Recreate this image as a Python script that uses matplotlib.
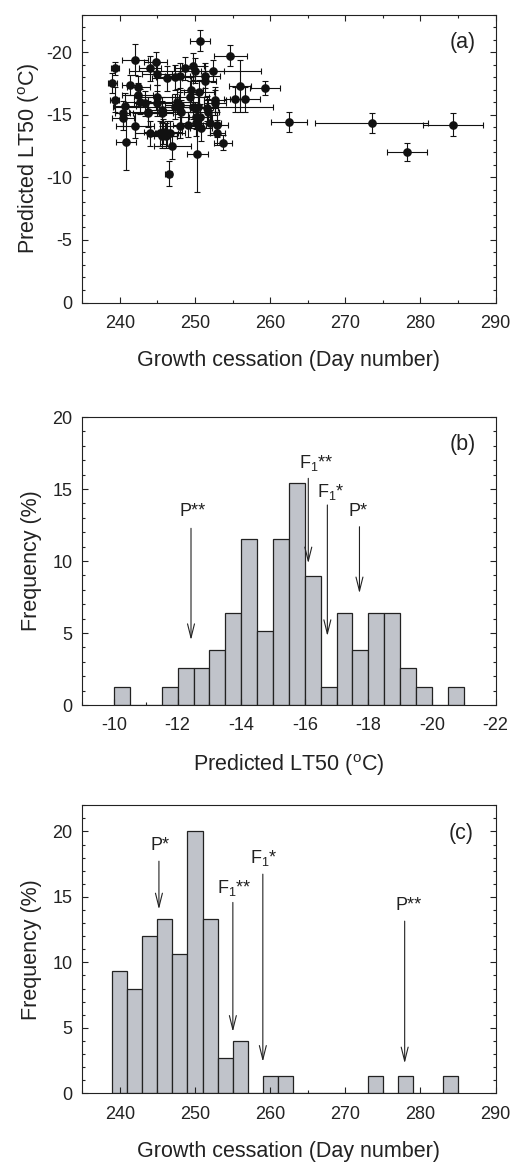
import numpy as np
import matplotlib.pyplot as plt
from matplotlib.ticker import MultipleLocator

plt.rcParams['font.family'] = ['Liberation Sans', 'DejaVu Sans']
plt.rcParams['mathtext.fontset'] = 'custom'
plt.rcParams['mathtext.rm'] = 'Liberation Sans'
plt.rcParams['axes.unicode_minus'] = False

# (a) growth cessation (day) vs predicted LT50, with errors
gc_day = [250.65, 254.7, 242.05, 239.35, 244.75, 244.0, 239.0, 239.35, 241.35, 242.45,
          242.35, 240.7, 240.4, 240.4, 242.05, 240.8, 244.0, 243.7, 244.9, 244.95,
          246.3, 247.3, 248.0, 248.65, 249.75, 250.0, 251.3, 251.3, 252.35, 256.0,
          259.3, 255.3, 256.6, 262.5, 249.4, 247.55, 252.65, 252.65, 244.9, 243.35,
          242.7, 248.0, 249.75, 250.4, 251.55, 245.55, 247.3, 248.2, 243.8, 245.55,
          251.75, 250.2, 250.65, 252.0, 252.95, 250.2, 249.1, 248.0, 246.65, 245.75,
          245.55, 246.3, 245.35, 246.1, 252.95, 253.75, 247.0, 250.3, 246.5, 273.5,
          278.2, 284.4, 249.5, 250.5, 250.8]
gc_err = [1.3, 2.2, 1.7, 0.5, 1.5, 1.5, 0.6, 0.6, 1.0, 1.5,
          2.0, 1.5, 1.0, 1.5, 2.5, 1.3, 2.0, 2.5, 3.0, 2.0,
          2.0, 2.5, 2.0, 1.5, 1.5, 8.8, 2.0, 1.5, 1.5, 1.5,
          2.0, 1.5, 2.0, 2.4, 2.5, 3.0, 1.5, 1.5, 2.0, 1.5,
          2.0, 2.0, 10.6, 2.0, 1.5, 2.0, 2.5, 2.0, 2.0, 1.5,
          1.5, 2.0, 1.5, 1.5, 1.5, 2.0, 2.0, 2.0, 2.0, 2.5,
          2.0, 1.5, 1.5, 1.5, 1.0, 1.2, 2.5, 1.4, 0.5, 7.5,
          2.7, 4.0, 1.5, 2.0, 1.5]
lt50 = [-20.9, -19.7, -19.4, -18.7, -19.2, -18.7, -17.5, -16.2, -17.35, -17.2,
        -16.6, -15.7, -15.1, -14.7, -14.1, -12.8, -13.5, -15.2, -16.4, -18.25,
        -17.9, -18.0, -18.1, -18.7, -18.85, -18.5, -18.1, -17.65, -18.5, -17.3,
        -17.15, -16.25, -16.25, -14.45, -16.45, -16.05, -16.2, -15.95, -15.9, -15.9,
        -16.05, -15.8, -15.65, -15.65, -15.5, -15.4, -15.65, -15.2, -15.1, -15.1,
        -15.25, -14.85, -14.85, -14.35, -14.2, -14.3, -14.2, -14.1, -13.5, -13.65,
        -13.3, -13.5, -13.5, -13.3, -13.55, -12.75, -12.5, -11.85, -10.3, -14.3,
        -12.0, -14.2, -17.0, -16.8, -13.9]
lt50_err = [0.85, 0.85, 1.25, 0.5, 0.8, 1.0, 0.8, 1.0, 0.8, 0.9,
            0.9, 1.0, 1.0, 0.9, 1.0, 2.2, 1.0, 1.2, 1.0, 0.9,
            1.0, 1.0, 1.0, 0.9, 1.1, 1.0, 1.0, 1.2, 0.9, 2.1,
            0.55, 1.0, 1.0, 0.8, 1.2, 1.0, 1.0, 1.0, 1.0, 1.0,
            1.0, 1.0, 1.0, 1.0, 1.0, 1.0, 1.0, 1.0, 1.0, 1.0,
            1.0, 1.0, 1.0, 1.0, 1.0, 1.0, 1.0, 1.0, 1.0, 1.0,
            1.0, 1.0, 1.0, 1.0, 1.0, 0.6, 1.0, 3.0, 1.0, 0.8,
            0.7, 0.9, 1.0, 1.0, 1.0]

# (b) predicted LT50 histogram, 0.5 C bins starting at -10
lt50_bin_start = -10.0
lt50_bin_width = -0.5
lt50_counts = [1, 0, 0, 1, 2, 2, 3, 5, 9, 4, 9, 12, 7, 1, 5, 3, 5, 5, 2, 1, 0, 1]
b_labels = ['P**', 'F$_1$**', 'F$_1$*', 'P*']
b_text_x = [-12.46, -16.37, -16.83, -17.68]
b_text_y = [13.13, 16.44, 14.42, 13.13]
b_arrow_x = [-12.42, -16.11, -16.71, -17.72]
b_arrow_top = [12.27, 15.74, 13.89, 12.38]
b_arrow_tip = [4.51, 9.84, 4.79, 7.76]

# (c) growth cessation histogram, 2 day bins starting at 239
gc_bin_start = 239
gc_bin_width = 2
gc_counts = [7, 6, 9, 10, 8, 15, 10, 2, 3, 0, 1, 1, 0, 0, 0, 0, 0, 1, 0, 1, 0, 0, 1]
c_labels = ['P*', 'F$_1$**', 'F$_1$*', 'P**']
c_text_x = [245.3, 255.24, 259.14, 278.4]
c_text_y = [18.57, 15.31, 17.56, 13.99]
c_arrow_x = [245.2, 255.04, 259.03, 277.91]
c_arrow_top = [17.73, 14.58, 16.74, 13.15]
c_arrow_tip = [14.05, 4.70, 2.41, 2.29]

ink = '#222222'
bar_fill = '#c0c3ca'
W, H = 512, 1162
fig = plt.figure(figsize=(W / 100, H / 100), dpi=100)
left = 82.3 / W
width = 413.2 / W
height = 288 / H
ax_a = fig.add_axes([left, 1 - 302.5 / H, width, height])
ax_b = fig.add_axes([left, 1 - 705 / H, width, height])
ax_c = fig.add_axes([left, 1 - 1093.3 / H, width, height])


def style(ax, top_ticks=False):
    for s in ax.spines.values():
        s.set_linewidth(0.8)
        s.set_color(ink)
    ax.tick_params(which='both', direction='in', right=True, top=top_ticks,
                   colors=ink, labelsize=13, width=0.8)
    ax.tick_params(which='major', length=4)
    ax.tick_params(which='minor', length=2.5)
    ax.tick_params(axis='x', pad=9)
    ax.tick_params(axis='y', pad=7)


# panel (a)
ax_a.errorbar(gc_day, lt50, xerr=gc_err, yerr=lt50_err, fmt='o', color='#111111',
              ms=5.2, elinewidth=0.8, capsize=2.4, capthick=0.8, ecolor='#111111')
ax_a.set_xlim(235, 290)
ax_a.set_ylim(0, -23)
ax_a.set_xticks(np.arange(240, 291, 10))
ax_a.set_yticks(np.arange(0, -21, -5))
ax_a.xaxis.set_minor_locator(MultipleLocator(5))
ax_a.yaxis.set_minor_locator(MultipleLocator(1))
style(ax_a, top_ticks=True)
ax_a.set_xlabel('Growth cessation (Day number)', fontsize=15.5, color=ink)
ax_a.set_ylabel('Predicted LT50 ($^{\\rm o}$C)', fontsize=15.5, color=ink)
ax_a.xaxis.set_label_coords(0.5, -0.165)
ax_a.yaxis.set_label_coords(-0.098, 0.5)
ax_a.text(0.92, 0.903, '(a)', transform=ax_a.transAxes, ha='center', va='center',
          fontsize=15.5, color=ink)

# panel (b)
b_pct = np.array(lt50_counts) / sum(lt50_counts) * 100
b_left = lt50_bin_start + lt50_bin_width * np.arange(len(lt50_counts))
ax_b.bar(b_left, b_pct, width=lt50_bin_width, align='edge', color=bar_fill,
         edgecolor=ink, linewidth=0.9)
ax_b.set_xlim(-9, -22)
ax_b.set_ylim(0, 20)
ax_b.set_xticks(np.arange(-10, -23, -2))
ax_b.set_yticks(np.arange(0, 21, 5))
ax_b.xaxis.set_minor_locator(MultipleLocator(1))
ax_b.yaxis.set_minor_locator(MultipleLocator(1))
style(ax_b)
ax_b.set_xlabel('Predicted LT50 ($^{\\rm o}$C)', fontsize=15.5, color=ink)
ax_b.set_ylabel('Frequency (%)', fontsize=15.5, color=ink)
ax_b.xaxis.set_label_coords(0.5, -0.165)
ax_b.yaxis.set_label_coords(-0.097, 0.5)
ax_b.text(0.92, 0.903, '(b)', transform=ax_b.transAxes, ha='center', va='center',
          fontsize=15.5, color=ink)
for lab, tx, ty, axx, top, tip in zip(b_labels, b_text_x, b_text_y, b_arrow_x,
                                      b_arrow_top, b_arrow_tip):
    ax_b.text(tx, ty, lab, ha='center', va='baseline', fontsize=13, color=ink)
    ax_b.annotate('', xy=(axx, tip), xytext=(axx, top),
                  arrowprops=dict(arrowstyle='->,head_length=1.0,head_width=0.25',
                                  lw=0.8, color=ink, shrinkA=0, shrinkB=0))

# panel (c)
c_pct = np.array(gc_counts) / sum(gc_counts) * 100
c_left = gc_bin_start + gc_bin_width * np.arange(len(gc_counts))
ax_c.bar(c_left, c_pct, width=gc_bin_width, align='edge', color=bar_fill,
         edgecolor=ink, linewidth=0.9)
ax_c.set_xlim(235, 290)
ax_c.set_ylim(0, 22)
ax_c.set_xticks(np.arange(240, 291, 10))
ax_c.set_yticks(np.arange(0, 21, 5))
ax_c.xaxis.set_minor_locator(MultipleLocator(5))
ax_c.yaxis.set_minor_locator(MultipleLocator(1))
style(ax_c)
ax_c.set_xlabel('Growth cessation (Day number)', fontsize=15.5, color=ink)
ax_c.set_ylabel('Frequency (%)', fontsize=15.5, color=ink)
ax_c.xaxis.set_label_coords(0.5, -0.166)
ax_c.yaxis.set_label_coords(-0.097, 0.5)
ax_c.text(0.918, 0.903, '(c)', transform=ax_c.transAxes, ha='center', va='center',
          fontsize=15.5, color=ink)
for lab, tx, ty, axx, top, tip in zip(c_labels, c_text_x, c_text_y, c_arrow_x,
                                      c_arrow_top, c_arrow_tip):
    ax_c.text(tx, ty, lab, ha='center', va='baseline', fontsize=13, color=ink)
    ax_c.annotate('', xy=(axx, tip), xytext=(axx, top),
                  arrowprops=dict(arrowstyle='->,head_length=1.0,head_width=0.25',
                                  lw=0.8, color=ink, shrinkA=0, shrinkB=0))

fig.savefig('out.png', dpi=100)
